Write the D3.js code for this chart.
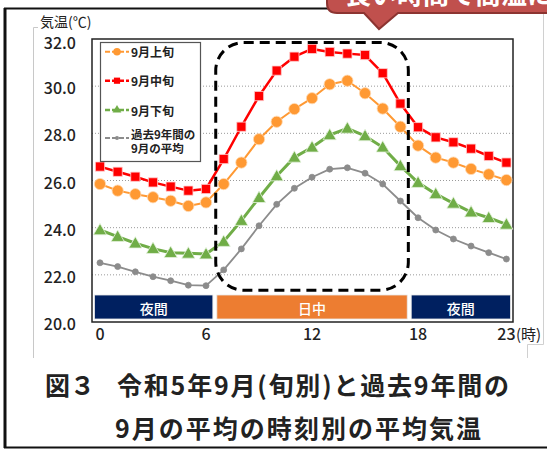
<!DOCTYPE html>
<html><head><meta charset="utf-8">
<script src="https://cdn.jsdelivr.net/npm/d3@7"></script>
<style>
html,body{margin:0;padding:0;background:#fff;}
svg{display:block;font-family:"Noto Sans CJK JP","Noto Sans",sans-serif;}
</style></head>
<body>
<svg id="c" width="547" height="450"></svg>
<script>
const hours = d3.range(0, 24);
const xTicks = [0, 6, 12, 18, 23];
const yTicks = [20, 22, 24, 26, 28, 30, 32];
const seriesNames = ["9月上旬", "9月中旬", "9月下旬", "過去9年間の\n9月の平均"];
const early = [25.85,25.57,25.42,25.29,25.14,24.92,25.07,25.85,26.76,27.75,28.49,29.03,29.49,30.08,30.23,29.70,29.05,28.28,27.48,26.97,26.76,26.49,26.26,26.02];
const mid   = [26.59,26.37,26.16,25.92,25.74,25.57,25.64,26.91,28.28,29.58,30.66,31.25,31.58,31.45,31.38,31.32,30.55,29.26,28.26,27.83,27.62,27.35,27.04,26.76];
const late  = [23.90,23.62,23.34,23.11,22.94,22.91,22.88,23.41,24.30,25.27,26.19,26.98,27.41,27.93,28.21,27.89,27.41,26.62,25.91,25.43,25.03,24.66,24.42,24.14];
const past  = [22.51,22.35,22.13,21.92,21.75,21.56,21.54,22.21,23.10,24.08,24.99,25.67,26.14,26.48,26.54,26.31,25.85,25.13,24.42,23.90,23.52,23.22,22.94,22.67];
const periodLabels = ["夜間", "日中", "夜間"];
const periodStarts = [-0.5, 6.5, 17.5];
const periodEnds = [6.5, 17.5, 23.5];
const titleFig = "図 ３";
const titleLines = ["令和5年9月(旬別)と過去9年間の", "9月の平均の時刻別の平均気温"];
const callout = "長い時間で高温に";

const svg = d3.select("#c");
const plot = {l: 92, r: 513, t: 39, b: 322};
const x = d3.scaleLinear().domain([0, 23]).range([100, 506.4]);
const y = d3.scaleLinear().domain([20, 32]).range([322, 39]);

// outer frame
svg.append("line").attr("x1",5).attr("x2",5).attr("y1",8).attr("y2",448).attr("stroke","#111").attr("stroke-width",3);
svg.append("line").attr("x1",4).attr("x2",547).attr("y1",8.5).attr("y2",8.5).attr("stroke","#111").attr("stroke-width",2);
svg.append("line").attr("x1",4).attr("x2",547).attr("y1",447.5).attr("y2",447.5).attr("stroke","#111").attr("stroke-width",2);
// inner light frame
svg.append("path").attr("d","M38,27.5 H33.5 V358").attr("fill","none").attr("stroke","#c8c8c8").attr("stroke-width",1);
svg.append("path").attr("d","M543.5,14 V344.5 H527.5 V358").attr("fill","none").attr("stroke","#d0d0d0").attr("stroke-width",1);

// callout
const cg = svg.append("g");
cg.append("path")
  .attr("d","M337,-30 H560 V13 H398 L379,29 L364,13 H337 Q327,13 327,3 V-20 Q327,-30 337,-30 Z")
  .attr("fill","#C0504D").attr("stroke","#8C3431").attr("stroke-width",2);
cg.append("text").attr("x",345).attr("y",4).attr("fill","#fff").attr("font-size",26).attr("font-weight","bold").text(callout);

// gridlines
svg.append("g").selectAll("line").data(yTicks.filter(d=>d>20 && d<32)).join("line")
  .attr("x1",plot.l).attr("x2",plot.r).attr("y1",d=>y(d)).attr("y2",d=>y(d))
  .attr("stroke","#9a9a9a").attr("stroke-width",1).attr("stroke-dasharray","1,2");

// period bars
const pb = svg.append("g");
periodLabels.forEach((lab,i)=>{
  const x0 = Math.max(x(periodStarts[i])+2, plot.l+2.5);
  const x1 = Math.min(x(periodEnds[i])-2, plot.r-2.5);
  const col = lab==="日中" ? "#ED7D31" : "#002060";
  pb.append("rect").attr("x",x0).attr("y",295).attr("width",x1-x0).attr("height",24).attr("fill",col).attr("stroke","#e8e8e8").attr("stroke-width",0.8);
  pb.append("text").attr("x",(x0+x1)/2).attr("y",307.5).attr("text-anchor","middle").attr("dominant-baseline","central")
    .attr("fill","#fff").attr("font-size",14).attr("font-weight","500").text(lab);
});

// plot frame
svg.append("rect").attr("x",plot.l).attr("y",plot.t).attr("width",plot.r-plot.l).attr("height",plot.b-plot.t)
  .attr("fill","none").attr("stroke","#222").attr("stroke-width",1.5);

// y axis labels
svg.append("g").selectAll("text").data(yTicks).join("text")
  .attr("x",76).attr("y",d=>y(d)+ (d===32?2.5:1)).attr("text-anchor","end").attr("dominant-baseline","central")
  .attr("font-size",16).attr("font-weight","500").attr("fill","#222").text(d=>d.toFixed(1));
svg.append("text").attr("x",40).attr("y",21).attr("dominant-baseline","central").attr("font-size",14).attr("fill","#222").text("気温(℃)");

// x axis labels
svg.append("g").selectAll("text").data(xTicks).join("text")
  .attr("x",d=>x(d)).attr("y",333).attr("text-anchor","middle").attr("dominant-baseline","central")
  .attr("font-size",16).attr("font-weight","500").attr("fill","#222").text(d=>d);
svg.append("text").attr("x",516).attr("y",333).attr("dominant-baseline","central").attr("font-size",15).attr("fill","#222").text("(時)");

// series
const series = [
  {name: seriesNames[3], data: past, color:"#8C8C8C", w:1.8, sym:d3.symbolCircle, size:28, stroke:"#8C8C8C"},
  {name: seriesNames[2], data: late, color:"#70AD47", w:3, sym:d3.symbolTriangle, size:75, stroke:"#e6f2de"},
  {name: seriesNames[0], data: early, color:"#FF9933", w:2, sym:d3.symbolCircle, size:100, stroke:"#ffd9b3"},
  {name: seriesNames[1], data: mid, color:"#FF0000", w:2.5, sym:d3.symbolSquare, size:85, stroke:"#ffd0d0"}
];
const line = d3.line().x((d,i)=>x(hours[i])).y(d=>y(d));
series.forEach(s=>{
  svg.append("path").attr("d",line(s.data)).attr("fill","none").attr("stroke",s.color).attr("stroke-width",s.w).attr("stroke-linejoin","round");
});
series.forEach(s=>{
  svg.append("g").selectAll("path").data(s.data).join("path")
    .attr("transform",(d,i)=>`translate(${x(hours[i])},${y(d) + (s.sym===d3.symbolTriangle?1:0)})`)
    .attr("d",d3.symbol().type(s.sym).size(s.size))
    .attr("fill",s.color).attr("stroke",s.stroke).attr("stroke-width",0.8);
});

// dashed rounded box (day time)
const bx0 = x(6.55), bx1 = x(17.45), by0 = y(31.85), by1 = y(21.35);
svg.append("rect").attr("x",bx0).attr("y",by0).attr("width",bx1-bx0).attr("height",by1-by0)
  .attr("rx",28).attr("ry",28).attr("fill","none").attr("stroke","#000").attr("stroke-width",3).attr("stroke-dasharray","10,6");

// legend
const lg = svg.append("g");
lg.append("rect").attr("x",100.5).attr("y",42.5).attr("width",100).attr("height",119).attr("fill","#fff").attr("stroke","#555").attr("stroke-width",1.2);
const legOrder = [series[2], series[3], series[1], series[0]];
const legY = [51.7, 80.7, 110, 138];
legOrder.forEach((s,i)=>{
  const yy = legY[i];
  lg.append("line").attr("x1",105).attr("x2",129).attr("y1",yy).attr("y2",yy).attr("stroke",s.color).attr("stroke-width",Math.min(s.w,2.5)).attr("stroke-dasharray","5,2");
  lg.append("path").attr("transform",`translate(117,${yy})`).attr("d",d3.symbol().type(s.sym).size(s.size*0.45)).attr("fill",s.color);
  const parts = s.name.split("\n");
  parts.forEach((p,j)=>{
    lg.append("text").attr("x",131).attr("y",parts.length===1 ? yy : 133.5 + j*14.5)
      .attr("dominant-baseline","central").attr("font-size",parts.length===1?12:11.5)
      .attr("font-weight","bold").attr("fill","#222").text(p);
  });
});

// title
const tAttrs = sel => sel.attr("dominant-baseline","central").attr("font-size",25).attr("font-weight","bold").attr("fill","#222");
svg.append("text").attr("x",45).attr("y",384).call(tAttrs).attr("textLength",50).attr("lengthAdjust","spacing").text(titleFig);
svg.append("text").attr("x",117).attr("y",384).call(tAttrs).attr("textLength",392).attr("lengthAdjust","spacing").text(titleLines[0]);
svg.append("text").attr("x",115).attr("y",427).call(tAttrs).attr("textLength",366).attr("lengthAdjust","spacing").text(titleLines[1]);
</script>
</body></html>
